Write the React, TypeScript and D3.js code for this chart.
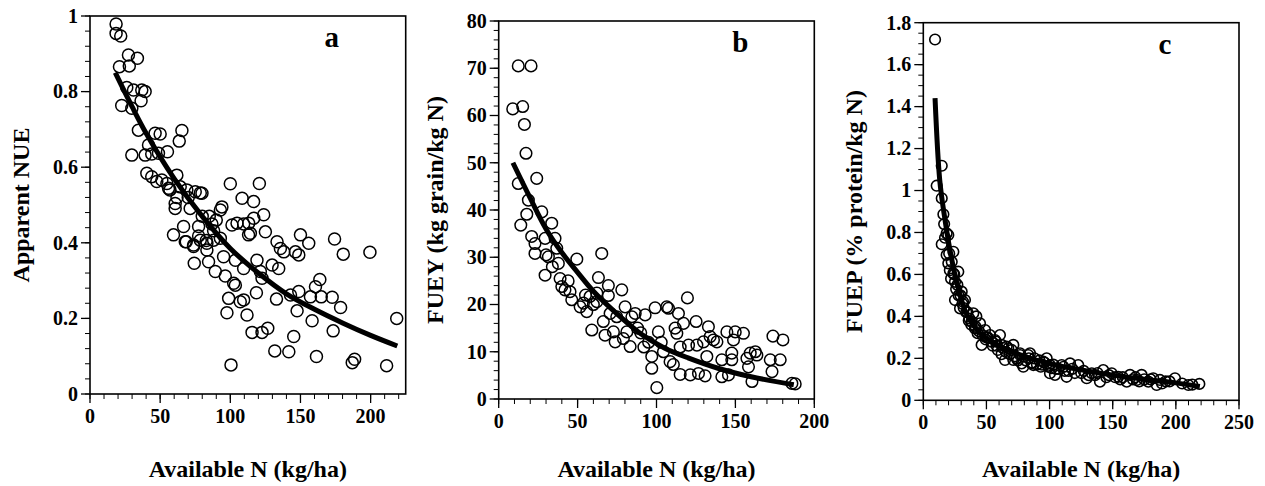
import * as d3 from "d3";

const FONT = "'Liberation Serif', 'Times New Roman', Times, serif";

// ---- panel a: apparent NUE vs available N
const aN = [18.6, 18.6, 21.9, 27.4, 33.8, 21, 28, 31, 36.9, 39.3, 36.4, 22.6, 29.8, 26.2, 34.5, 46.4, 50, 65.5, 63.6, 29.8,
  39.3, 44, 48.8, 55.2, 41.7, 40.5, 44, 47.6, 51.2, 54.8, 61.9, 56, 64.3, 69, 75, 79.8, 100, 120.7, 108.4, 116.6,
  94, 60.7, 60.7, 71.4, 92.9, 66.7, 59.5, 77.4, 86.9, 88.1, 77.4, 82.9, 68.6, 73.8, 83.3, 74.3, 84.5, 89.3, 95.2, 96.4,
  102.4, 103.6, 103.6, 109.5, 101.2, 104.8, 109.5, 113.1, 116.7, 123.8, 113, 114.3, 125, 119, 121.4, 122.6, 129.8, 134.5, 133.3, 135.7,
  138.1, 146.4, 148.8, 150, 155.9, 174.3, 180.5, 199.5, 118.6, 98.8, 107.1, 109.5, 97.6, 111.9, 132.9, 142.9, 148.8, 147.6, 157.1, 160.7,
  163.8, 164.8, 172.6, 178.6, 158.3, 115.5, 122.6, 126.7, 145.2, 173.3, 218.6, 131.7, 141.7, 161.4, 186.9, 188.6, 100.5, 211.4,
  78.6, 57, 62, 70, 85, 90, 80, 67.9, 73.8, 78.6, 83.3, 88.1, 92.9];
const aNue = [0.979, 0.954, 0.947, 0.897, 0.888, 0.866, 0.868, 0.804, 0.804, 0.8, 0.776, 0.763, 0.756, 0.811, 0.698, 0.69, 0.688, 0.697, 0.669, 0.632,
  0.632, 0.635, 0.637, 0.641, 0.659, 0.584, 0.575, 0.562, 0.566, 0.557, 0.579, 0.544, 0.548, 0.54, 0.535, 0.531, 0.556, 0.557, 0.518, 0.509,
  0.495, 0.504, 0.491, 0.491, 0.487, 0.443, 0.421, 0.443, 0.45, 0.432, 0.418, 0.406, 0.403, 0.39, 0.381, 0.346, 0.35, 0.324, 0.363, 0.312,
  0.293, 0.288, 0.354, 0.332, 0.447, 0.452, 0.45, 0.452, 0.465, 0.474, 0.421, 0.425, 0.429, 0.354, 0.324, 0.306, 0.341, 0.332, 0.403, 0.385,
  0.376, 0.376, 0.368, 0.421, 0.399, 0.41, 0.37, 0.375, 0.268, 0.253, 0.244, 0.249, 0.215, 0.209, 0.251, 0.262, 0.271, 0.22, 0.257, 0.284,
  0.303, 0.257, 0.256, 0.229, 0.194, 0.163, 0.163, 0.174, 0.152, 0.167, 0.2, 0.114, 0.112, 0.099, 0.083, 0.092, 0.077, 0.075,
  0.532, 0.54, 0.52, 0.52, 0.47, 0.46, 0.47, 0.403, 0.394, 0.407, 0.399, 0.407, 0.412];
const aFitN = [18, 30, 40, 60, 80, 100, 120, 140, 160, 180, 200, 219];
const aFitNue = [0.85, 0.76, 0.69, 0.57, 0.47, 0.385, 0.32, 0.265, 0.224, 0.188, 0.155, 0.127];
const aXTicks = [0, 50, 100, 150, 200];
const aYTicks = [0, 0.2, 0.4, 0.6, 0.8, 1];

// ---- panel b: FUEY vs available N
const bN = [12.4, 20.5, 8.9, 15.2, 16.3, 17.3, 24.1, 12.4, 18.8, 17.8, 27.3, 14, 33.6, 20.9, 23, 29.4, 35.7, 23, 31.5, 36.8,
  29.4, 37.8, 49.5, 65.3, 38.9, 42, 45.2, 40, 46.3, 51.6, 55.8, 53.7, 57.9, 62.2, 62.2, 63.2, 69.5, 69.5, 78, 59,
  66.3, 67.4, 73.8, 72.7, 79, 83.3, 81.2, 84.4, 86.5, 92.8, 80.1, 74.8, 70.6, 99.1, 107.6, 106.5, 113.9, 119.6, 117.1, 111.8,
  112.9, 101.2, 97, 97, 100.2, 104.4, 108.6, 110.7, 115, 121.4, 126.6, 130.8, 120.3, 125.6, 129.8, 134, 136.1, 138.3, 125.1, 132.9,
  131.9, 141.4, 145.6, 141.4, 144.6, 149.9, 155.1, 148.8, 147.7, 147.7, 157.3, 158.3, 160.5, 162.6, 163.6, 159.4, 172.1, 173.2, 173.8, 180.1,
  178.4, 185.8, 187.9, 55, 60, 90, 95, 88, 30, 34, 44, 92, 103, 115];
const bFuey = [70.5, 70.5, 61.4, 61.9, 58.1, 52, 46.7, 45.6, 42.1, 39.1, 39.6, 36.8, 37.2, 34.4, 32.9, 34, 34, 30.8, 30.1, 31.9,
  26.2, 28.7, 29.6, 30.8, 25.5, 23.1, 22.7, 23.8, 21, 19.5, 18.5, 20.3, 21.7, 20.6, 22.4, 25.7, 24, 21.9, 23.1, 14.6,
  16.4, 13.5, 12.1, 14.2, 12.8, 11.1, 14.2, 17.4, 18.1, 17.8, 19.5, 17.4, 18.1, 19.3, 19.2, 19.5, 18.1, 21.4, 16, 15,
  13.9, 14.2, 9, 6.5, 2.4, 10, 7.9, 7.3, 5.2, 5.1, 5.4, 4.9, 11.4, 11.4, 12.1, 13.2, 12.5, 12.1, 16.4, 15.3,
  9, 4.7, 5.1, 8.3, 14.2, 14.2, 13.9, 12.5, 9.7, 8.3, 8.6, 6.8, 3.7, 10, 9.3, 9.7, 8.3, 5.8, 13.3, 12.5,
  8.3, 3.3, 3.2, 22, 20, 14, 12, 15, 30.5, 28, 25, 11, 12, 11];
const bFitN = [9, 20, 30, 40, 50, 60, 75, 90, 105, 120, 140, 160, 187];
const bFitFuey = [50, 42.5, 36, 31, 26.8, 22.8, 18, 13.8, 10.8, 8.7, 6.4, 4.7, 3.0];
const bXTicks = [0, 50, 100, 150, 200];
const bYTicks = [0, 10, 20, 30, 40, 50, 60, 70, 80];

// ---- panel c: FUEP vs available N (points crowd along the curve)
const cN = [9.3, 14.6, 10.6, 14.6, 15.9, 18.5, 19.8, 14.6, 17.2, 23.8, 18.5, 19.8, 27.7, 23.8, 25.1, 30.4, 25.1, 33, 29.1, 39.6,
  38.3, 44.9, 40.9, 48.9, 52.8, 56.8, 62.1, 60.7, 67.3, 71.3, 77.9, 76.6, 83.1, 85.8, 95, 101.7, 100.3, 46.2, 66, 70,
  64.7, 71.3, 76.6, 84.5, 79.2, 87.1, 97.7, 100.3, 104.3, 109.6, 113.5, 116.2, 122.7, 129.4, 133.4, 139.9, 142.5, 149.2, 154.4, 161.1,
  163.7, 169, 172.9, 178.2, 182.1, 187.4, 184.8, 199.3, 209.9, 218.6, 21, 22, 28, 32, 35, 36, 42, 50, 54, 58,
  88, 92, 105, 112, 118, 125, 136, 145, 158, 166, 175, 192, 26, 31, 44, 62, 74, 93,
  16.5, 20.5, 22.5, 24.5, 27, 29.5, 31.5, 34, 36.5, 38, 41.5, 43, 47, 49.5, 51, 55, 57.5, 59, 63, 65.5,
  68.5, 72.5, 75, 81, 83.5, 86, 90, 94, 96, 99, 103, 107, 111, 115, 120, 127, 131, 138, 147, 152,
  156, 168, 171, 180, 189, 195, 205, 213];
const cFuep = [1.72, 1.118, 1.023, 0.963, 0.887, 0.796, 0.788, 0.744, 0.775, 0.708, 0.693, 0.653, 0.613, 0.605, 0.565, 0.518, 0.478, 0.478, 0.438, 0.415,
  0.375, 0.367, 0.343, 0.335, 0.311, 0.287, 0.264, 0.311, 0.248, 0.264, 0.176, 0.216, 0.216, 0.176, 0.184, 0.153, 0.129, 0.264, 0.256, 0.24,
  0.192, 0.192, 0.224, 0.224, 0.16, 0.168, 0.2, 0.168, 0.121, 0.168, 0.112, 0.176, 0.168, 0.105, 0.129, 0.089, 0.144, 0.129, 0.112, 0.089,
  0.121, 0.097, 0.121, 0.089, 0.105, 0.097, 0.073, 0.105, 0.073, 0.078, 0.62, 0.58, 0.5, 0.44, 0.42, 0.38, 0.4, 0.3, 0.28, 0.26,
  0.2, 0.19, 0.15, 0.14, 0.15, 0.13, 0.12, 0.11, 0.11, 0.1, 0.1, 0.09, 0.53, 0.46, 0.33, 0.22, 0.2, 0.16,
  0.84, 0.7, 0.66, 0.6, 0.55, 0.5, 0.47, 0.42, 0.39, 0.36, 0.35, 0.32, 0.31, 0.29, 0.3, 0.26, 0.28, 0.24, 0.25, 0.23,
  0.22, 0.21, 0.19, 0.19, 0.2, 0.18, 0.17, 0.17, 0.18, 0.16, 0.17, 0.15, 0.16, 0.14, 0.13, 0.14, 0.12, 0.13, 0.12, 0.11,
  0.1, 0.11, 0.09, 0.1, 0.08, 0.09, 0.08, 0.075];
const cFitN = [9.3, 13, 16.7, 21, 26.4, 34.4, 45, 60, 80, 100, 125, 150, 175, 200, 219];
const cFitFuep = [1.44, 1.05, 0.88, 0.72, 0.565, 0.41, 0.32, 0.26, 0.21, 0.175, 0.145, 0.12, 0.1, 0.083, 0.066];
const cXTicks = [0, 50, 100, 150, 200, 250];
const cYTicks = [0, 0.2, 0.4, 0.6, 0.8, 1, 1.2, 1.4, 1.6, 1.8];

const X_TITLE = "Available N (kg/ha)";

type PanelProps = {
  left: number; top: number; right: number; bottom: number;
  xMax: number; yMax: number;
  xs: number[]; ys: number[];
  fitX: number[]; fitY: number[];
  xTicks: number[]; yTicks: number[];
  xMinorStep: number; yMinorStep: number;
  r: number; ptStroke: number; label: string; yTitle: string; yTitleX: number;
};

function Panel(p: PanelProps) {
  const x = d3.scaleLinear().domain([0, p.xMax]).range([p.left, p.right]);
  const y = d3.scaleLinear().domain([0, p.yMax]).range([p.bottom, p.top]);

  const xMinor = d3.range(0, p.xMax + 1e-9, p.xMinorStep);
  const yMinor = d3.range(0, p.yMax + 1e-9, p.yMinorStep);

  const line = d3
    .line<number>()
    .x((i) => x(p.fitX[i]))
    .y((i) => y(p.fitY[i]))
    .curve(d3.curveCatmullRom);
  const fitPath = line(d3.range(p.fitX.length)) || "";

  const midX = (p.left + p.right) / 2;
  const midY = (p.top + p.bottom) / 2;

  return (
    <g fontFamily={FONT} fontWeight="bold" fill="#000">
      {/* minor ticks */}
      {xMinor.map((v, i) => (
        <line key={"xm" + i} x1={x(v)} x2={x(v)} y1={p.bottom} y2={p.bottom + 5} stroke="#000" strokeWidth={1} />
      ))}
      {yMinor.map((v, i) => (
        <line key={"ym" + i} x1={p.left - 5} x2={p.left} y1={y(v)} y2={y(v)} stroke="#000" strokeWidth={1} />
      ))}
      {/* major ticks + labels */}
      {p.xTicks.map((v) => (
        <g key={"xt" + v}>
          <line x1={x(v)} x2={x(v)} y1={p.bottom} y2={p.bottom + 9} stroke="#000" strokeWidth={1.3} />
          <text x={x(v)} y={p.bottom + 29} textAnchor="middle" fontSize={20}>{String(v)}</text>
        </g>
      ))}
      {p.yTicks.map((v) => (
        <g key={"yt" + v}>
          <line x1={p.left - 9} x2={p.left} y1={y(v)} y2={y(v)} stroke="#000" strokeWidth={1.3} />
          <text x={p.left - 12} y={y(v)} dy="0.34em" textAnchor="end" fontSize={20}>{String(v)}</text>
        </g>
      ))}
      {/* frame */}
      <rect x={p.left} y={p.top} width={p.right - p.left} height={p.bottom - p.top} fill="none" stroke="#000" strokeWidth={1.6} />
      {/* points */}
      {p.xs.map((v, i) => (
        <circle key={"pt" + i} cx={x(v)} cy={y(p.ys[i])} r={p.r} fill="none" stroke="#000" strokeWidth={p.ptStroke} />
      ))}
      {/* fitted curve */}
      <path d={fitPath} fill="none" stroke="#000" strokeWidth={5} />
      {/* panel letter */}
      <text x={p.right - 74} y={p.top + 31} textAnchor="middle" fontSize={29}>{p.label}</text>
      {/* axis titles */}
      <text x={midX} y={477} textAnchor="middle" fontSize={24}>{X_TITLE}</text>
      <text transform={`translate(${p.yTitleX},${midY}) rotate(-90)`} textAnchor="middle" fontSize={24}>{p.yTitle}</text>
    </g>
  );
}

export default function App() {
  return (
    <svg width={1265} height={486} style={{ position: "absolute", left: 0, top: 0, background: "#fff" }}>
      <rect width={1265} height={486} fill="#fff" />
      <Panel left={90} top={16} right={405.7} bottom={394} xMax={225} yMax={1}
        xs={aN} ys={aNue} fitX={aFitN} fitY={aFitNue} xTicks={aXTicks} yTicks={aYTicks}
        xMinorStep={10} yMinorStep={0.04} r={6} ptStroke={1.5} label="a" yTitle="Apparent NUE" yTitleX={29} />
      <Panel left={498.7} top={21} right={814.3} bottom={399} xMax={200} yMax={80}
        xs={bN} ys={bFuey} fitX={bFitN} fitY={bFitFuey} xTicks={bXTicks} yTicks={bYTicks}
        xMinorStep={10} yMinorStep={2} r={5.8} ptStroke={1.5} label="b" yTitle="FUEY (kg grain/kg N)" yTitleX={443} />
      <Panel left={923.3} top={22.7} right={1239} bottom={400.3} xMax={250} yMax={1.8}
        xs={cN} ys={cFuep} fitX={cFitN} fitY={cFitFuep} xTicks={cXTicks} yTicks={cYTicks}
        xMinorStep={10} yMinorStep={0.05} r={5.3} ptStroke={1.6} label="c" yTitle="FUEP (% protein/kg N)" yTitleX={862} />
    </svg>
  );
}
